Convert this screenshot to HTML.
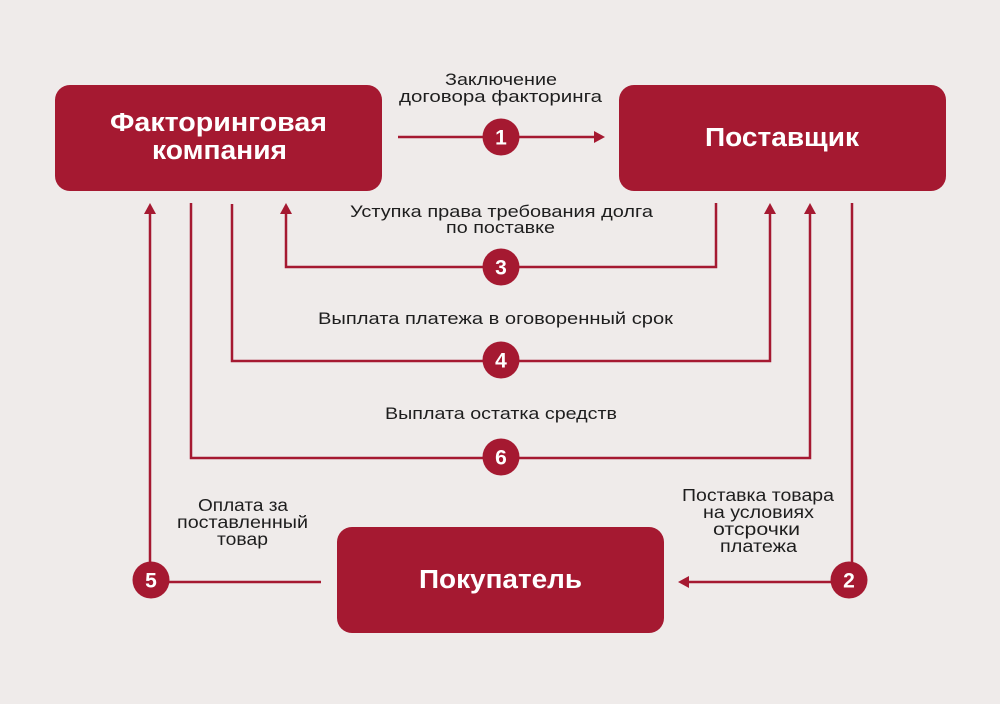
<!DOCTYPE html>
<html>
<head>
<meta charset="utf-8">
<style>
  html,body{margin:0;padding:0;background:#efebea;}
  svg{display:block;}
  .lbl{font-family:"Liberation Sans","DejaVu Sans",sans-serif;font-size:17px;fill:#1e1e1e;}
  .lbl2{font-family:"Liberation Sans","DejaVu Sans",sans-serif;font-size:17.5px;fill:#1e1e1e;}
  .ttl{font-family:"Liberation Sans","DejaVu Sans",sans-serif;font-size:25.5px;font-weight:bold;fill:#ffffff;}
  .num{font-family:"Liberation Sans","DejaVu Sans",sans-serif;font-size:21px;font-weight:bold;fill:#ffffff;}
</style>
</head>
<body>
<svg width="1000" height="704" viewBox="0 0 1000 704" xmlns="http://www.w3.org/2000/svg">
  <rect x="0" y="0" width="1000" height="704" fill="#efebea"/>

  <!-- boxes -->
  <rect x="55" y="85" width="327" height="106" rx="15" fill="#a51931"/>
  <rect x="619" y="85" width="327" height="106" rx="15" fill="#a51931"/>
  <rect x="337" y="527" width="327" height="106" rx="15" fill="#a51931"/>

  <text class="ttl" x="110" y="131" textLength="217" lengthAdjust="spacingAndGlyphs">Факторинговая</text>
  <text class="ttl" x="152" y="159" textLength="135" lengthAdjust="spacingAndGlyphs">компания</text>
  <text class="ttl" x="705" y="146" textLength="154" lengthAdjust="spacingAndGlyphs">Поставщик</text>
  <text class="ttl" x="419" y="588" textLength="163" lengthAdjust="spacingAndGlyphs">Покупатель</text>

  <!-- connectors -->
  <g fill="none" stroke="#a51931" stroke-width="2.5">
    <line x1="398" y1="137" x2="596" y2="137"/>
    <polyline points="716,203 716,267 286,267 286,212"/>
    <polyline points="232,204 232,361 770,361 770,212"/>
    <polyline points="191,203 191,458 810,458 810,212"/>
    <polyline points="321,582 150,582 150,212"/>
    <polyline points="852,203 852,582 687,582"/>
  </g>

  <!-- arrowheads -->
  <g fill="#a51931">
    <polygon points="605,137 594,131 594,143"/>
    <polygon points="286,203 280,214 292,214"/>
    <polygon points="770,203 764,214 776,214"/>
    <polygon points="810,203 804,214 816,214"/>
    <polygon points="150,203 144,214 156,214"/>
    <polygon points="678,582 689,576 689,588"/>
  </g>

  <!-- number circles -->
  <g fill="#a51931">
    <circle cx="501" cy="137" r="18.5"/>
    <circle cx="849" cy="580" r="18.5"/>
    <circle cx="501" cy="267" r="18.5"/>
    <circle cx="501" cy="360" r="18.5"/>
    <circle cx="151" cy="580" r="18.5"/>
    <circle cx="501" cy="457" r="18.5"/>
  </g>
  <text class="num" x="501" y="144.5" text-anchor="middle">1</text>
  <text class="num" x="849" y="587.5" text-anchor="middle">2</text>
  <text class="num" x="501" y="274.5" text-anchor="middle">3</text>
  <text class="num" x="501" y="367.5" text-anchor="middle">4</text>
  <text class="num" x="151" y="587.5" text-anchor="middle">5</text>
  <text class="num" x="501" y="464.5" text-anchor="middle">6</text>

  <!-- labels -->
  <text class="lbl" x="445" y="85" textLength="112" lengthAdjust="spacingAndGlyphs">Заключение</text>
  <text class="lbl" x="399" y="102" textLength="203" lengthAdjust="spacingAndGlyphs">договора факторинга</text>

  <text class="lbl" x="350" y="217" textLength="303" lengthAdjust="spacingAndGlyphs">Уступка права требования долга</text>
  <text class="lbl" x="446" y="233" textLength="109" lengthAdjust="spacingAndGlyphs">по поставке</text>

  <text class="lbl" x="318" y="324" textLength="355" lengthAdjust="spacingAndGlyphs">Выплата платежа в оговоренный срок</text>

  <text class="lbl" x="385" y="419" textLength="232" lengthAdjust="spacingAndGlyphs">Выплата остатка средств</text>

  <text class="lbl2" x="198" y="511" textLength="90" lengthAdjust="spacingAndGlyphs">Оплата за</text>
  <text class="lbl2" x="177" y="528" textLength="131" lengthAdjust="spacingAndGlyphs">поставленный</text>
  <text class="lbl2" x="217" y="545" textLength="51" lengthAdjust="spacingAndGlyphs">товар</text>

  <text class="lbl2" x="682" y="501" textLength="152" lengthAdjust="spacingAndGlyphs">Поставка товара</text>
  <text class="lbl2" x="703" y="518" textLength="111" lengthAdjust="spacingAndGlyphs">на условиях</text>
  <text class="lbl2" x="713" y="535" textLength="87" lengthAdjust="spacingAndGlyphs">отсрочки</text>
  <text class="lbl2" x="720" y="552" textLength="77" lengthAdjust="spacingAndGlyphs">платежа</text>
</svg>
</body>
</html>
